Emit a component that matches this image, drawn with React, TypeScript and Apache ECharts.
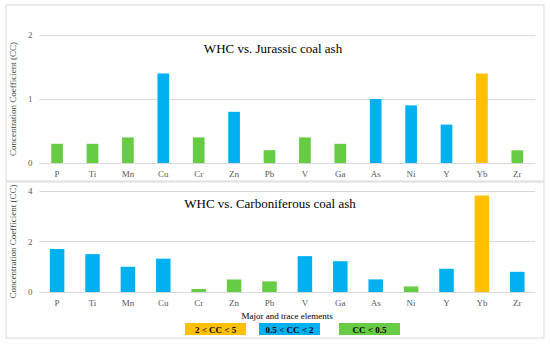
import React, { useEffect, useRef } from "react";
import * as echarts from "echarts";

const elements = ["P", "Ti", "Mn", "Cu", "Cr", "Zn", "Pb", "V", "Ga", "As", "Ni", "Y", "Yb", "Zr"];
const jurassicCC = [0.3, 0.3, 0.4, 1.4, 0.4, 0.8, 0.2, 0.4, 0.3, 1.0, 0.9, 0.6, 1.4, 0.2];
const jurassicClass = ["low", "low", "low", "mid", "low", "mid", "low", "low", "low", "mid", "mid", "mid", "high", "low"];
const carboniferousCC = [1.7, 1.5, 1.0, 1.32, 0.12, 0.5, 0.42, 1.42, 1.22, 0.5, 0.22, 0.92, 3.82, 0.8];
const carboniferousClass = ["mid", "mid", "mid", "mid", "low", "low", "low", "mid", "mid", "mid", "low", "mid", "high", "mid"];
const legendLabels = ["2 < CC < 5", "0.5 < CC < 2", "CC < 0.5"];
const legendClasses = ["high", "mid", "low"];

const classColor: Record<string, string> = {
  high: "#FFC000",
  mid: "#00B0F0",
  low: "#66CC44",
};

const FONT = "Liberation Serif";

export default function App() {
  const ref = useRef<HTMLDivElement>(null);
  useEffect(() => {
    if (!ref.current) return;
    const chart = echarts.init(ref.current, undefined, { renderer: "svg" });
    const axisLabel = { color: "#595959", fontSize: 9, fontFamily: FONT };
    const legendX = [185, 259, 339];
    chart.setOption({
      animation: false,
      backgroundColor: "#ffffff",
      textStyle: { fontFamily: FONT },
      grid: [
        { left: 37, top: 35, width: 498, height: 128 },
        { left: 37, top: 191, width: 498, height: 101 },
      ],
      xAxis: [0, 1].map((i) => ({
        type: "category",
        gridIndex: i,
        data: elements,
        axisTick: { show: false },
        axisLine: { lineStyle: { color: "#D9D9D9" } },
        axisLabel: { ...axisLabel, margin: 6 },
        name: i === 1 ? "Major and trace elements" : "",
        nameLocation: "middle",
        nameGap: 19,
        nameTextStyle: { color: "#000", fontSize: 9, fontFamily: FONT },
      })),
      yAxis: [
        {
          type: "value",
          gridIndex: 0,
          min: 0,
          max: 2,
          interval: 1,
          axisLabel: { ...axisLabel, margin: 7 },
          splitLine: { lineStyle: { color: "#D9D9D9" } },
          axisLine: { show: false },
          name: "Concentration Coefficient (CC)",
          nameLocation: "middle",
          nameRotate: 90,
          nameGap: 17,
          nameTextStyle: { color: "#404040", fontSize: 9, fontFamily: FONT },
        },
        {
          type: "value",
          gridIndex: 1,
          min: 0,
          max: 4,
          interval: 2,
          axisLabel: { ...axisLabel, margin: 7 },
          splitLine: { lineStyle: { color: "#D9D9D9" } },
          axisLine: { show: false },
          name: "Concentration Coefficient (CC)",
          nameLocation: "middle",
          nameRotate: 90,
          nameGap: 15,
          nameTextStyle: { color: "#404040", fontSize: 9, fontFamily: FONT },
        },
      ],
      series: [
        {
          type: "bar",
          xAxisIndex: 0,
          yAxisIndex: 0,
          barWidth: "33%",
          data: jurassicCC.map((v, i) => ({ value: v, itemStyle: { color: classColor[jurassicClass[i]] } })),
        },
        {
          type: "bar",
          xAxisIndex: 1,
          yAxisIndex: 1,
          barWidth: "41%",
          data: carboniferousCC.map((v, i) => ({ value: v, itemStyle: { color: classColor[carboniferousClass[i]] } })),
        },
      ],
      graphic: [
        { type: "rect", shape: { x: 6, y: 5, width: 538, height: 176 }, style: { fill: "none", stroke: "#D9D9D9", lineWidth: 1 }, silent: true },
        { type: "rect", shape: { x: 6, y: 182, width: 538, height: 156 }, style: { fill: "none", stroke: "#D9D9D9", lineWidth: 1 }, silent: true },
        {
          type: "text",
          x: 273,
          y: 48,
          style: { text: "WHC vs. Jurassic coal ash", fontSize: 13, fontFamily: FONT, fill: "#000", align: "center", verticalAlign: "middle" },
        },
        {
          type: "text",
          x: 270,
          y: 203,
          style: { text: "WHC vs. Carboniferous coal ash", fontSize: 13, fontFamily: FONT, fill: "#000", align: "center", verticalAlign: "middle" },
        },
        ...legendLabels.flatMap((label, i) => [
          {
            type: "rect",
            shape: { x: legendX[i], y: 323, width: 61, height: 12 },
            style: { fill: classColor[legendClasses[i]] },
          },
          {
            type: "text",
            x: legendX[i] + 30.5,
            y: 329.5,
            style: { text: label, fontSize: 9, fontWeight: "bold", fontFamily: FONT, fill: "#000", align: "center", verticalAlign: "middle" },
          },
        ]),
      ],
    });
    return () => chart.dispose();
  }, []);
  return <div ref={ref} style={{ width: 550, height: 345, position: "absolute", left: 0, top: 0 }} />;
}
